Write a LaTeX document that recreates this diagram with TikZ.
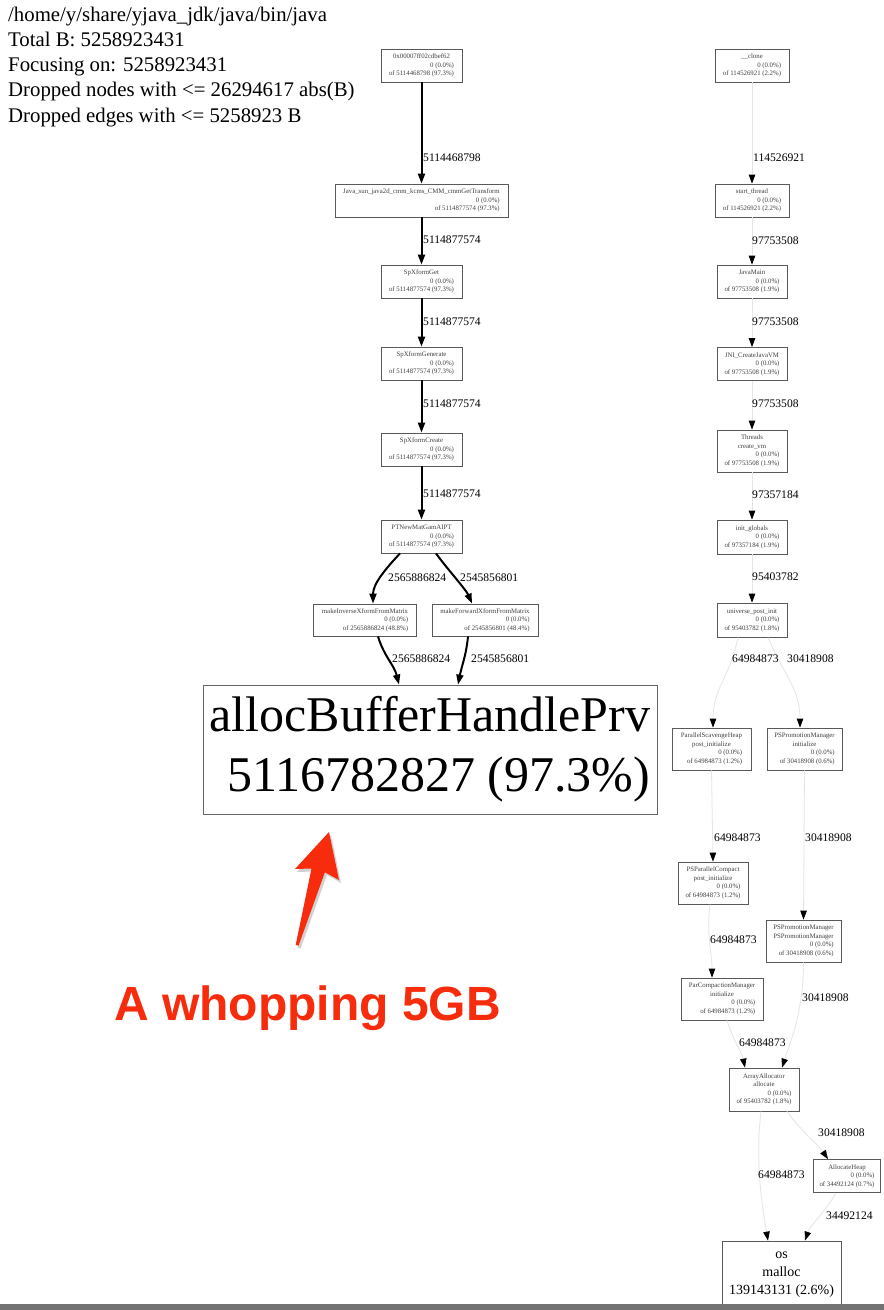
\documentclass[tikz,border=0pt]{standalone}
\usepackage{fontspec}
\setmainfont{Liberation Serif}
\newfontfamily\annfont{Liberation Sans}
\usetikzlibrary{arrows.meta,calc}
\definecolor{annred}{RGB}{246,44,12}
\newcommand\lblA[3]{\begin{tabular}{@{}r@{}}\multicolumn{1}{@{}c@{}}{#1}\\#2\\of #3\end{tabular}}
\newcommand\lblB[4]{\begin{tabular}{@{}r@{}}\multicolumn{1}{@{}c@{}}{#1}\\\multicolumn{1}{@{}c@{}}{#2}\\#3\\of #4\end{tabular}}
\tikzset{
  fn/.style={draw=black!65, line width=0.8pt, text=black!75, inner sep=0pt,
    font=\fontsize{6.8}{8.5}\selectfont},
  bignode/.style={draw=black!60, line width=0.8pt, inner sep=0pt,
    font=\fontsize{50}{60}\selectfont},
  heavy/.style={line width=2pt, draw=black, -{Triangle[length=10pt,width=7pt]}},
  lightedge/.style={line width=0.8pt, draw=black!10, -{Triangle[length=9pt,width=6.5pt,color=black]}},
  elabel/.style={anchor=west, inner sep=0pt, font=\fontsize{11.6}{13}\selectfont},
  hdr/.style={anchor=base west, inner sep=0pt, font=\fontsize{20.8}{25}\selectfont},
}
\begin{document}
\begin{tikzpicture}[x=1pt,y=-1pt]
\fill[white] (0,0) rectangle (884,1310);
\useasboundingbox (0,0) rectangle (884,1310);

% header
\node[hdr] (h1) at (8,21) {/home/y/share/yjava\_jdk/java/bin/java};
\node[hdr] (h2) at (8,46.3) {Total B: 5258923431};
\node[hdr] (h3) at (8,71.6) {Focusing on: 5258923431};
\node[hdr] (h4) at (8,96.9) {Dropped nodes with <= 26294617 abs(B)};
\node[hdr] (h5) at (8,122.2) {Dropped edges with <= 5258923 B};

% left column
\node[fn, minimum width=81, minimum height=33] (n1) at (421.5,65.5) {\lblA{0x00007ff02cdbef62}{0 (0.0\%)}{5114468798 (97.3\%)}};
\node[fn, minimum width=173, minimum height=33] (n2) at (421.5,200.5) {\lblA{Java\_sun\_java2d\_cmm\_kcms\_CMM\_cmmGetTransform}{0 (0.0\%)}{5114877574 (97.3\%)}};
\node[fn, minimum width=81, minimum height=33] (n3) at (421.5,281.5) {\lblA{SpXformGet}{0 (0.0\%)}{5114877574 (97.3\%)}};
\node[fn, minimum width=81, minimum height=33] (n4) at (421.5,363.5) {\lblA{SpXformGenerate}{0 (0.0\%)}{5114877574 (97.3\%)}};
\node[fn, minimum width=81, minimum height=33] (n5) at (421.5,449.5) {\lblA{SpXformCreate}{0 (0.0\%)}{5114877574 (97.3\%)}};
\node[fn, minimum width=81, minimum height=33] (n6) at (421.5,536.5) {\lblA{PTNewMatGamAIPT}{0 (0.0\%)}{5114877574 (97.3\%)}};
\node[fn, minimum width=103, minimum height=32] (n7) at (365,620) {\lblA{makeInverseXformFromMatrix}{0 (0.0\%)}{2565886824 (48.8\%)}};
\node[fn, minimum width=106, minimum height=32] (n8) at (485,620) {\lblA{makeForwardXformFromMatrix}{0 (0.0\%)}{2545856801 (48.4\%)}};
\node[bignode, minimum width=454, minimum height=129] (big) at (430,749.5) {\begin{tabular}{@{}r@{}}allocBufferHandlePrv\\5116782827 (97.3\%)\end{tabular}};

\draw[heavy] (n1) -- (n2);
\draw[heavy] (n2) -- (n3);
\draw[heavy] (n3) -- (n4);
\draw[heavy] (n4) -- (n5);
\draw[heavy] (n5) -- (n6);
\draw[heavy] ($(n6.south)+(-21.5,0)$) .. controls +(-14,15) and +(0,-20) .. ($(n7.north)+(8,0)$);
\draw[heavy] ($(n6.south)+(14.5,0)$) .. controls +(10,14) and +(-6,-14) .. ($(n8.north)+(-13,0)$);
\draw[heavy] ($(n7.south)+(13,0)$) .. controls +(6,20) and +(-5,-20) .. ($(big.north)+(-31,0)$);
\draw[heavy] ($(n8.south)+(-17,0)$) .. controls +(-2,20) and +(4,-20) .. ($(big.north)+(28,0)$);

\node[elabel] (l1) at (423,158) {5114468798};
\node[elabel] (l2) at (423,240) {5114877574};
\node[elabel] (l3) at (423,322) {5114877574};
\node[elabel] (l4) at (423,404) {5114877574};
\node[elabel] (l5) at (423,494) {5114877574};
\node[elabel] (l6a) at (388,578) {2565886824};
\node[elabel] (l6b) at (460,578) {2545856801};
\node[elabel] (l7a) at (392,659) {2565886824};
\node[elabel] (l7b) at (471,659) {2545856801};

% right column
\node[fn, minimum width=74, minimum height=33] (r1) at (752,65.5) {\lblA{\_\_clone}{0 (0.0\%)}{114526921 (2.2\%)}};
\node[fn, minimum width=74, minimum height=33] (r2) at (752,200.5) {\lblA{start\_thread}{0 (0.0\%)}{114526921 (2.2\%)}};
\node[fn, minimum width=70, minimum height=33] (r3) at (752,281.5) {\lblA{JavaMain}{0 (0.0\%)}{97753508 (1.9\%)}};
\node[fn, minimum width=70, minimum height=33] (r4) at (752,364) {\lblA{JNI\_CreateJavaVM}{0 (0.0\%)}{97753508 (1.9\%)}};
\node[fn, minimum width=70, minimum height=42] (r5) at (752,451) {\lblB{Threads}{create\_vm}{0 (0.0\%)}{97753508 (1.9\%)}};
\node[fn, minimum width=70, minimum height=34] (r6) at (752,537) {\lblA{init\_globals}{0 (0.0\%)}{97357184 (1.9\%)}};
\node[fn, minimum width=70, minimum height=34] (r7) at (752,620) {\lblA{universe\_post\_init}{0 (0.0\%)}{95403782 (1.8\%)}};
\node[fn, minimum width=79, minimum height=42] (r8) at (711.5,749) {\lblB{ParallelScavengeHeap}{post\_initialize}{0 (0.0\%)}{64984873 (1.2\%)}};
\node[fn, minimum width=75, minimum height=42] (r9) at (804.5,749) {\lblB{PSPromotionManager}{initialize}{0 (0.0\%)}{30418908 (0.6\%)}};
\node[fn, minimum width=70, minimum height=42] (r10) at (713,883) {\lblB{PSParallelCompact}{post\_initialize}{0 (0.0\%)}{64984873 (1.2\%)}};
\node[fn, minimum width=75, minimum height=42] (r11) at (803.5,941) {\lblB{PSPromotionManager}{PSPromotionManager}{0 (0.0\%)}{30418908 (0.6\%)}};
\node[fn, minimum width=82, minimum height=42] (r12) at (722,999) {\lblB{ParCompactionManager}{initialize}{0 (0.0\%)}{64984873 (1.2\%)}};
\node[fn, minimum width=70, minimum height=43] (r13) at (764,1089.5) {\lblB{ArrayAllocator}{allocate}{0 (0.0\%)}{95403782 (1.8\%)}};
\node[fn, minimum width=67, minimum height=33] (r14) at (847,1176) {\lblA{AllocateHeap}{0 (0.0\%)}{34492124 (0.7\%)}};
\node[fn, text=black, minimum width=119, minimum height=63, font=\fontsize{14}{18}\selectfont] (r15) at (781.5,1272.5) {\begin{tabular}{@{}c@{}}os\\malloc\\139143131 (2.6\%)\end{tabular}};

\draw[lightedge] (r1) -- (r2);
\draw[lightedge] (r2) -- (r3);
\draw[lightedge] (r3) -- (r4);
\draw[lightedge] (r4) -- (r5);
\draw[lightedge] (r5) -- (r6);
\draw[lightedge] (r6) -- (r7);
\draw[lightedge] ($(r7.south)+(-14,0)$) .. controls +(-8,40) and +(0,-40) .. ($(r8.north)+(1.5,0)$);
\draw[lightedge] ($(r7.south)+(16,0)$) .. controls +(14,35) and +(0,-40) .. ($(r9.north)+(-4.5,0)$);
\draw[lightedge] (r8.south) -- (r10.north);
\draw[lightedge] (r9.south) -- (r11.north);
\draw[lightedge] ($(r10.south)+(-3,0)$) .. controls +(-4,30) and +(0,-25) .. ($(r12.north)+(-10,0)$);
\draw[lightedge] (r11.south) .. controls +(0,50) and +(8,-25) .. ($(r13.north)+(18,0)$);
\draw[lightedge] ($(r12.south)+(5,0)$) .. controls +(6,20) and +(-3,-15) .. ($(r13.north)+(-19,0)$);
\draw[lightedge] ($(r13.south)+(-3,0)$) .. controls +(-6,50) and +(-6,-35) .. ($(r15.north)+(-13.5,0)$);
\draw[lightedge] ($(r13.south)+(23,0)$) .. controls +(14,20) and +(-10,-15) .. ($(r14.north)+(-19,0)$);
\draw[lightedge] ($(r14.south)+(-11,0)$) .. controls +(-10,18) and +(5,-15) .. ($(r15.north)+(23.5,0)$);

\node[elabel] (m1) at (753,158) {114526921};
\node[elabel] (m2) at (752,241) {97753508};
\node[elabel] (m3) at (752,322) {97753508};
\node[elabel] (m4) at (752,404) {97753508};
\node[elabel] (m5) at (752,495) {97357184};
\node[elabel] (m6) at (752,577) {95403782};
\node[elabel] (m7a) at (732,659) {64984873};
\node[elabel] (m7b) at (787,659) {30418908};
\node[elabel] (m8a) at (714,838) {64984873};
\node[elabel] (m8b) at (805,838) {30418908};
\node[elabel] (m9a) at (710,940) {64984873};
\node[elabel] (m9b) at (802,998) {30418908};
\node[elabel] (m10) at (739,1043) {64984873};
\node[elabel] (m11) at (818,1133) {30418908};
\node[elabel] (m12) at (758,1175) {64984873};
\node[elabel] (m13) at (826,1216) {34492124};

% red annotation arrow
\fill[black!18] (331,835) -- (341,883) -- (327,875) -- (300.5,948.7) -- (297.7,947.9) -- (313.5,871.5) -- (297,872) -- cycle;
\fill[annred] (329,832) -- (339,880) -- (324.9,872.3) -- (298.5,945.7) -- (295.7,944.9) -- (311.5,868.5) -- (295,869) -- cycle;

% annotation text
\node[anchor=base, inner sep=0pt, text=annred, font=\annfont\bfseries\fontsize{48}{56}\selectfont] (ann) at (307.5,1020) {A whopping 5GB};

% bottom strip
\fill[black!55] (0,1304) rectangle (884,1310);
\end{tikzpicture}
\end{document}
